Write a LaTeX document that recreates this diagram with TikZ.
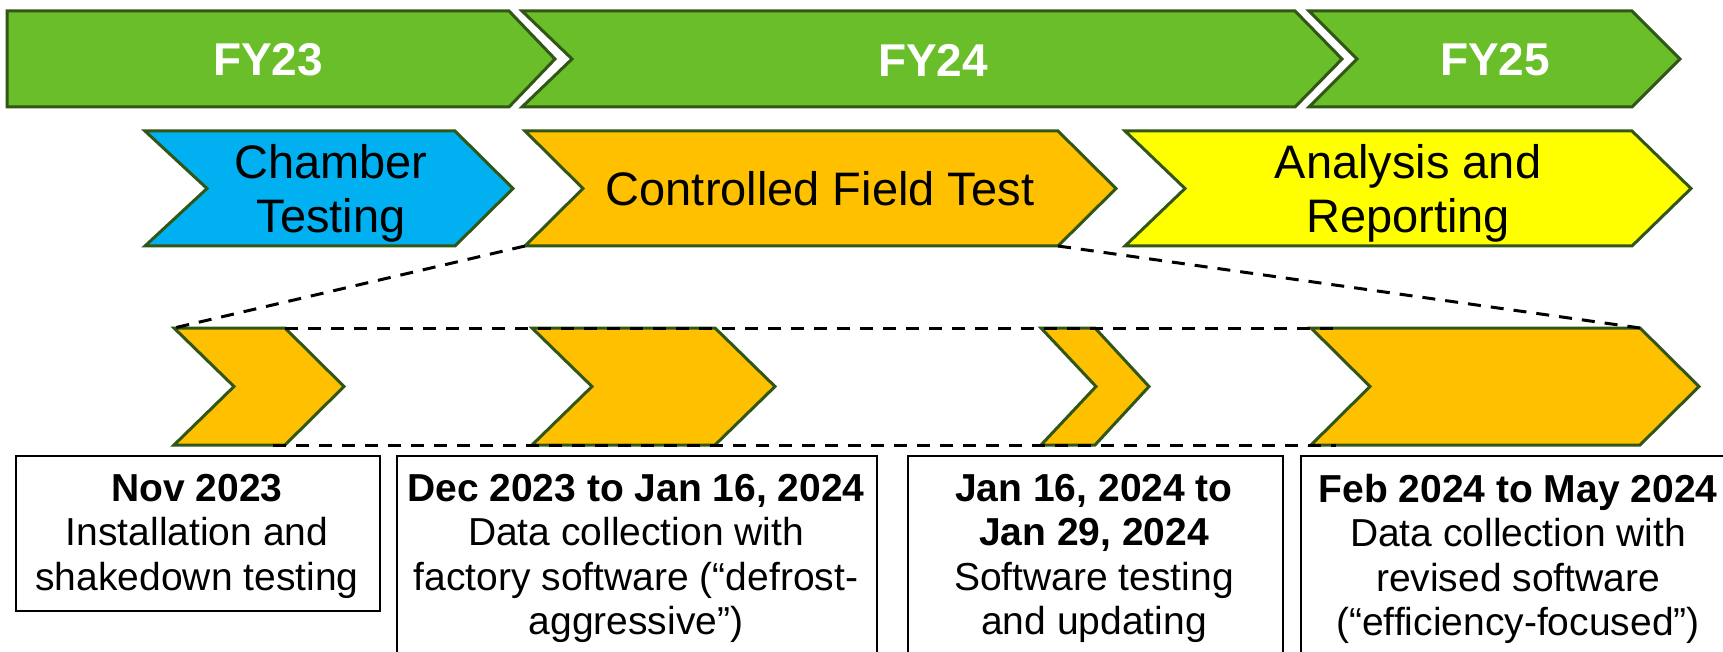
\documentclass[tikz,border=0pt]{standalone}
\usepackage{fontspec}
\setmainfont{Liberation Sans}
\definecolor{fygreen}{RGB}{106,190,42}
\definecolor{edgegreen}{RGB}{50,86,22}
\definecolor{chamberblue}{RGB}{0,176,240}
\definecolor{fieldorange}{RGB}{255,192,0}
\definecolor{reportyellow}{RGB}{255,255,0}

\begin{document}
\begin{tikzpicture}[x=1pt,y=-1pt,
  chev/.style={draw=edgegreen, line width=3pt, line join=miter},
  yearlabel/.style={text=white, font=\fontsize{46}{52}\selectfont\bfseries, inner sep=0pt},
  phaselabel/.style={font=\fontsize{47}{54}\selectfont, align=center, inner sep=0pt},
  zoomline/.style={draw=black, line width=3pt, dash pattern=on 13pt off 10pt},
  infobox/.style={draw=black, line width=2pt, inner sep=0pt, anchor=north west},
  infotext/.style={font=\fontsize{39}{44.5}\selectfont, align=center, inner sep=0pt, anchor=north}
]
\clip (0,0) rectangle (1723,652);
\fill[white] (0,0) rectangle (1723,652);

% fiscal years
\draw[chev, fill=fygreen] (7,11) -- (509,11) -- (555,59) -- (509,107) -- (7,107) -- cycle;
\draw[chev, fill=fygreen] (522,11) -- (1295,11) -- (1342,59) -- (1295,107) -- (522,107) -- (572,59) -- cycle;
\draw[chev, fill=fygreen] (1309,11) -- (1632,11) -- (1680,59) -- (1632,107) -- (1309,107) -- (1357,59) -- cycle;
\node[yearlabel] (fy23) at (268,60) {FY23};
\node[yearlabel] (fy24) at (933,60) {FY24};
\node[yearlabel] (fy25) at (1495,60) {FY25};

% project phases
\draw[chev, fill=chamberblue] (145,131) -- (455,131) -- (513,188.5) -- (455,246) -- (145,246) -- (207,188.5) -- cycle;
\draw[chev, fill=fieldorange] (525,131) -- (1058,131) -- (1116,188.5) -- (1058,246) coordinate (cft-se)
  -- (525,246) coordinate (cft-sw) -- (583,188.5) -- cycle;
\draw[chev, fill=reportyellow] (1125,131) -- (1632,131) -- (1691,188.5) -- (1632,246) -- (1125,246) -- (1185,188.5) -- cycle;
\node[phaselabel] (chamber) at (331,193) {Chamber\\Testing};
\node[phaselabel] (field) at (820,189) {Controlled Field Test};
\node[phaselabel] (report) at (1408,193) {Analysis and\\Reporting};

% field test stages
\draw[chev, fill=fieldorange] (174,328) coordinate (e1-nw) -- (285,328) coordinate (e1-ne) -- (344,386.5)
  -- (285,445) -- (174,445) -- (234,386.5) -- cycle;
\draw[chev, fill=fieldorange] (532,328) -- (715,328) -- (775,386.5) -- (715,445) -- (532,445) -- (592,386.5) -- cycle;
\draw[chev, fill=fieldorange] (1041,328) -- (1095,328) -- (1149,386.5) -- (1095,445) -- (1041,445) -- (1096,386.5) -- cycle;
\draw[chev, fill=fieldorange] (1311,328) -- (1640,328) coordinate (e4-ne) -- (1699,386.5) -- (1640,445) -- (1311,445)
  -- (1370,386.5) -- cycle;

% zoom guides
\coordinate (topend) at (1343,328);
\coordinate (botstart) at (273,445);
\coordinate (botend) at (1336,445);
\draw[zoomline] (cft-sw) -- (e1-nw);
\draw[zoomline] (cft-se) -- (e4-ne);
\draw[zoomline] (e1-ne) -- (topend);
\draw[zoomline] (botstart) -- (botend);

% descriptions
\node[infobox, minimum width=364pt, minimum height=155pt] (b1) at (15,455) {};
\node[infobox, minimum width=480pt, minimum height=230pt] (b2) at (396,455) {};
\node[infobox, minimum width=375pt, minimum height=230pt] (b3) at (907,455) {};
\node[infobox, minimum width=436pt, minimum height=230pt] (b4) at (1300,455) {};

\node[infotext] (t1) at (197,474) {{\bfseries Nov 2023}\\Installation and\\shakedown testing};
\node[infotext] (t2) at (636,474) {{\bfseries Dec 2023 to Jan 16, 2024}\\Data collection with\\factory software (“defrost-\\aggressive”)};
\node[infotext] (t3) at (1094,474) {{\bfseries Jan 16, 2024 to}\\{\bfseries Jan 29, 2024}\\Software testing\\and updating};
\node[infotext] (t4) at (1518,474) {{\bfseries Feb 2024 to May 2024}\\Data collection with\\revised software\\(“efficiency-focused”)};
\end{tikzpicture}
\end{document}
